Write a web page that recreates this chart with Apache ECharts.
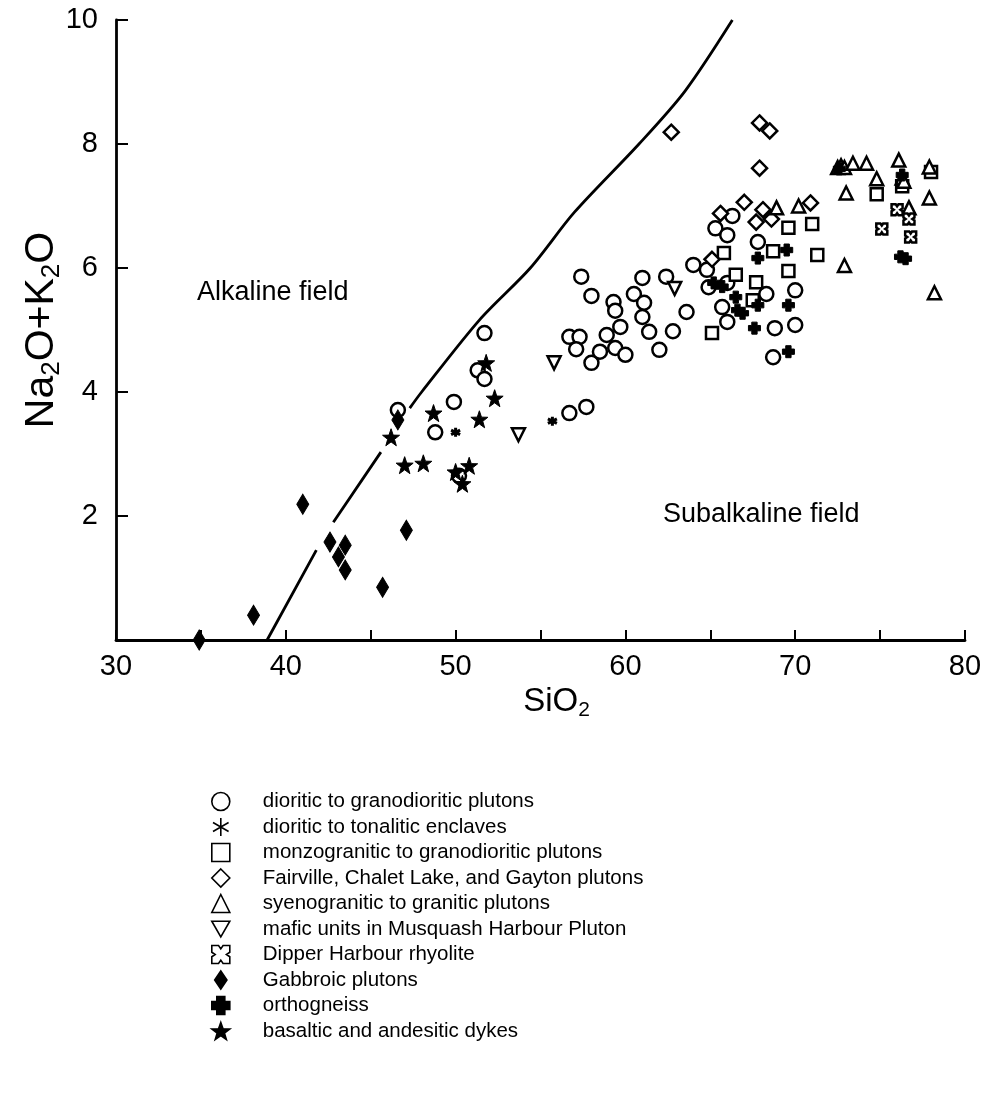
<!DOCTYPE html>
<html>
<head>
<meta charset="utf-8">
<script src="https://cdn.jsdelivr.net/npm/echarts@6/dist/echarts.min.js"></script>
<style>
html,body{margin:0;padding:0;background:#fff;}
#c{width:993px;height:1117px;}
</style>
</head>
<body>
<div id="c"></div>
<script>
// Boundary curve (Irvine & Baragar), gaps where the original line is broken
var boundarySiO2 = [38.9, 41.8, null, 42.8, 45.6, null, 47.3, 48.0, 51.4, 54.4, 57.0, 60.8, 63.5, 66.3];
var boundaryAlk  = [0.0,  1.45, null, 1.9,  3.03, null, 3.74, 4.0,  5.16, 6.0,  6.9,  8.0,  8.85, 10.0];

var dioritic = [[46.6,3.71],[48.8,3.35],[49.9,3.84],[50.2,2.65],[51.3,4.35],[51.7,4.21],[51.7,4.95],
  [56.7,3.66],[57.7,3.76],[56.7,4.89],[57.3,4.89],[57.1,4.69],[57.4,5.86],[58.0,5.55],[58.0,4.47],
  [58.5,4.65],[58.9,4.92],[59.3,5.45],[59.4,5.31],[59.4,4.71],[59.7,5.05],[60.0,4.60],[60.5,5.58],
  [61.0,5.84],[61.1,5.44],[61.0,5.21],[61.4,4.97],[62.0,4.68],[62.4,5.86],[62.8,4.98],[63.6,5.29],
  [64.0,6.05],[64.8,5.97],[64.9,5.69],[65.3,6.64],[66.0,6.53],[66.3,6.84],[66.0,5.76],[65.7,5.37],
  [66.0,5.13],[67.8,6.42],[68.3,5.58],[68.8,5.03],[68.7,4.56],[70.0,5.64],[70.0,5.08]];
var enclaves = [[50.0,3.35],[55.7,3.53]];
var monzogranitic = [[65.1,4.95],[65.8,6.24],[66.5,5.89],[67.5,5.48],[67.7,5.77],[68.7,6.27],[69.6,6.65],
  [69.6,5.95],[71.0,6.71],[71.3,6.21],[74.8,7.19],[76.3,7.32],[78.0,7.55]];
var fairville = [[62.7,8.19],[67.9,8.34],[68.5,8.21],[67.9,7.61],[67.0,7.06],[65.6,6.88],[65.1,6.14],
  [68.1,6.94],[67.7,6.74],[68.6,6.79],[70.9,7.05]];
var syenogranitic = [[68.9,6.97],[70.2,7.0],[72.5,7.62],[72.7,7.65],[72.9,7.62],[73.4,7.69],[74.2,7.69],
  [73.0,7.21],[74.8,7.44],[76.1,7.74],[76.3,7.45],[76.4,7.40],[77.9,7.63],[77.9,7.13],[76.7,6.97],
  [72.9,6.04],[78.2,5.6]];
var mafic = [[53.7,3.31],[55.8,4.47],[62.9,5.67]];
var rhyolite = [[75.1,6.63],[76.0,6.94],[76.7,6.79],[76.8,6.50]];
var gabbroic = [[34.9,0],[38.1,0.40],[41.0,2.19],[42.6,1.58],[43.5,1.53],[43.1,1.34],[43.5,1.13],
  [45.7,0.85],[47.1,1.77],[46.6,3.55]];
var orthogneiss = [[65.2,5.76],[65.7,5.70],[66.5,5.53],[66.6,5.32],[66.9,5.27],[67.8,6.16],[69.5,6.29],
  [67.8,5.40],[69.6,5.40],[67.6,5.03],[69.6,4.65],[76.2,6.18],[76.5,6.15],[72.6,7.60],[76.3,7.50]];
var dykes = [[46.2,3.27],[47.0,2.82],[48.1,2.85],[48.7,3.66],[51.8,4.47],[52.3,3.9],[51.4,3.56],
  [50.0,2.71],[50.8,2.81],[50.4,2.52]];

var seriesNames = ['dioritic to granodioritic plutons','dioritic to tonalitic enclaves',
  'monzogranitic to granodioritic plutons','Fairville, Chalet Lake, and Gayton plutons',
  'syenogranitic to granitic plutons','mafic units in Musquash Harbour Pluton',
  'Dipper Harbour rhyolite','Gabbroic plutons','orthogneiss','basaltic and andesitic dykes'];

var boundary = boundarySiO2.map(function(x,i){ return x===null ? ['-','-'] : [x, boundaryAlk[i]]; });

var STAR = 'path://M0,-10 L2.35,-3.24 L9.51,-3.09 L3.8,1.24 L5.88,8.09 L0,4 L-5.88,8.09 L-3.8,1.24 L-9.51,-3.09 L-2.35,-3.24 Z';
var ASTER = 'path://M0,-10L0,10M-8.66,-5L8.66,5M-8.66,5L8.66,-5';
var CROSS = 'path://M-4,-9 L4,-9 L4,-4 L9,-4 L9,4 L4,4 L4,9 L-4,9 L-4,4 L-9,4 L-9,-4 L-4,-4 Z';
var RHYO = 'path://M-8,-8 L-2,-8 L0,-5 L2,-8 L8,-8 L8,-2 L5,0 L8,2 L8,8 L2,8 L0,5 L-2,8 L-8,8 L-8,2 L-5,0 L-8,-2 Z';
var TRIDOWN = 'path://M-10,-8.66 L10,-8.66 L0,8.66 Z';
var TALLDIAMOND = 'path://M0,-11 L7.5,0 L0,11 L-7.5,0 Z';

var openStyle = {color:'#fff', borderColor:'#000', borderWidth:2.5, opacity:1};
var fillStyle = {color:'#000', borderColor:'#000', borderWidth:1, opacity:1};
var FONT = 'Liberation Sans';

function sc(name, data, symbol, size, style){
  return {name:name, type:'scatter', data:data, symbol:symbol, symbolSize:size,
    itemStyle:style, clip:false, z:3};
}

var chart = echarts.init(document.getElementById('c'), null, {renderer:'canvas'});
chart.setOption({
  backgroundColor:'#fff',
  animation:false,
  grid:{left:116, right:28, top:20, bottom:477, containLabel:false},
  xAxis:{type:'value', min:30, max:80, interval:5,
    name:'{a|SiO}{b|2}', nameLocation:'middle', nameGap:28,
    nameTextStyle:{padding:[0,0,0,32], rich:{a:{fontSize:33, fontFamily:FONT, color:'#000'},
                         b:{fontSize:21, fontFamily:FONT, color:'#000', padding:[16,0,0,0]}}},
    axisLine:{lineStyle:{color:'#000', width:2.8}},
    axisTick:{inside:true, length:10, lineStyle:{color:'#000', width:2}},
    axisLabel:{fontSize:29, fontFamily:FONT, color:'#000', margin:12,
      formatter:function(v){ return v%10===0 ? String(v) : ''; }},
    splitLine:{show:false}},
  yAxis:{type:'value', min:0, max:10, interval:2,
    name:'{a|Na}{b|2}{a|O+K}{b|2}{a|O}', nameLocation:'middle', nameGap:51, nameRotate:90,
    nameMoveOverlap:false,
    nameTextStyle:{rich:{a:{fontSize:41, fontFamily:FONT, color:'#000'},
                         b:{fontSize:26, fontFamily:FONT, color:'#000', padding:[20,0,0,0]}}},
    axisLine:{lineStyle:{color:'#000', width:2.8}},
    axisTick:{inside:true, length:12, lineStyle:{color:'#000', width:2}},
    axisLabel:{fontSize:29, fontFamily:FONT, color:'#000', margin:18,
      formatter:function(v){ return v===0 ? '' : String(v); }},
    splitLine:{show:false}},
  legend:{orient:'vertical', left:206, top:786, itemWidth:18, itemHeight:18, itemGap:4.5,
    data:seriesNames, selectedMode:false, symbolKeepAspect:true,
    itemStyle:{borderWidth:1.6},
    textStyle:{fontSize:20.5, lineHeight:18, fontFamily:FONT, color:'#000', padding:[0,0,0,28]}},
  graphic:[
    {type:'text', left:197, top:279, style:{text:'Alkaline field', font:'27px "Liberation Sans"', fill:'#000'}},
    {type:'text', left:663, top:501, style:{text:'Subalkaline field', font:'27px "Liberation Sans"', fill:'#000'}}
  ],
  series:[
    {name:'boundary', type:'line', data:boundary, smooth:0.3, showSymbol:false, symbol:'none',
      connectNulls:false, lineStyle:{color:'#000', width:2.8}, z:2, silent:true},
    sc(seriesNames[0], dioritic, 'circle', 14, openStyle),
    sc(seriesNames[1], enclaves, ASTER, 9, {color:'#000', borderColor:'#000', borderWidth:3, opacity:1}),
    sc(seriesNames[2], monzogranitic, 'rect', 12, openStyle),
    sc(seriesNames[3], fairville, 'diamond', 15, openStyle),
    sc(seriesNames[4], syenogranitic, 'triangle', 13, openStyle),
    sc(seriesNames[5], mafic, TRIDOWN, 13, openStyle),
    sc(seriesNames[6], rhyolite, RHYO, 11, openStyle),
    sc(seriesNames[7], gabbroic, TALLDIAMOND, [12,20], fillStyle),
    sc(seriesNames[8], orthogneiss, CROSS, 12, fillStyle),
    sc(seriesNames[9], dykes, STAR, 17, fillStyle)
  ]
});
</script>
</body>
</html>
